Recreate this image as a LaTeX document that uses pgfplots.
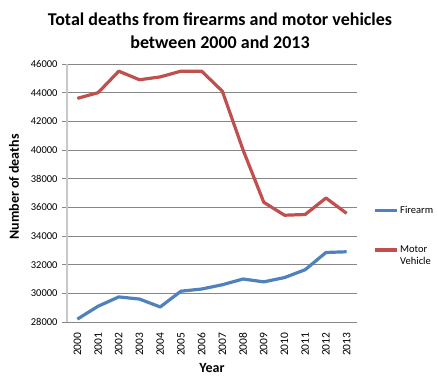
\documentclass[border=0pt]{standalone}
\usepackage{pgfplots}
\pgfplotsset{compat=1.18}
\usepackage{fontspec}
\setmainfont{Carlito}
\definecolor{fire}{RGB}{79,129,189}
\definecolor{motor}{RGB}{192,80,77}
\definecolor{gridc}{RGB}{134,134,134}
\definecolor{axc}{RGB}{200,200,200}
\begin{document}
\begin{tikzpicture}[x=1pt,y=1pt]
\useasboundingbox (0,0) rectangle (438,375);
\node[font=\bfseries\fontsize{18}{23}\selectfont, align=center] at (220,344) {Total deaths from firearms and motor vehicles\\between 2000 and 2013};
\node[font=\bfseries\fontsize{14}{16}\selectfont, rotate=90] at (14,188) {Number of deaths};
\node[font=\bfseries\fontsize{14}{16}\selectfont] at (212,7) {Year};
\begin{axis}[
  at={(67pt,53pt)}, anchor=south west,
  scale only axis, width=290pt, height=258pt,
  xmin=-0.5, xmax=13.5, ymin=28000, ymax=46000,
  xtick={0,...,13},
  xticklabels={2000,2001,2002,2003,2004,2005,2006,2007,2008,2009,2010,2011,2012,2013},
  major x tick style={draw=none},
  extra x ticks={-0.5,0.5,...,13.5}, extra x tick labels={},
  extra x tick style={grid=none, tick style={draw=gridc, line width=0.8pt}},
  ytick={28000,30000,...,46000},
  ymajorgrids, grid style={gridc, line width=0.8pt},
  axis x line*=bottom, axis y line*=left,
  x axis line style={gridc, line width=0.8pt},
  y axis line style={axc, line width=1.5pt},
  tick align=outside, major tick length=5pt,
  ytick style={draw=gridc, line width=0.8pt},
  scaled y ticks=false,
  /pgf/number format/1000 sep={},
  /pgf/number format/assume math mode=true,
  yticklabel style={font=\fontsize{10.5}{11}\selectfont, xshift=-1pt},
  xticklabel style={font=\fontsize{11.5}{12}\selectfont, rotate=90, anchor=east, xshift=-2pt},
  legend style={at={(1.0545,0.356)}, anchor=west, draw=none, fill=none,
    font=\fontsize{10.5}{12}\selectfont, row sep=27pt, inner sep=0pt,
    cells={anchor=base west, text width=40pt, align=left},
    /tikz/every even column/.append style={column sep=0pt}},
  legend image code/.code={\draw[#1] plot coordinates {(0pt,0pt)(22pt,0pt)};},
  legend cell align=left,
  clip=false,
]
\addplot[fire, line width=3.2pt, line join=round] coordinates {
(0,28200)(1,29100)(2,29750)(3,29600)(4,29050)(5,30150)(6,30300)(7,30600)(8,31000)(9,30800)(10,31100)(11,31650)(12,32850)(13,32900)};
\addlegendentry{Firearm}
\addplot[motor, line width=3.2pt, line join=round] coordinates {
(0,43600)(1,44000)(2,45500)(3,44900)(4,45100)(5,45500)(6,45500)(7,44100)(8,40000)(9,36350)(10,35450)(11,35500)(12,36650)(13,35580)};
\addlegendentry{Motor Vehicle}
\end{axis}
\end{tikzpicture}
\end{document}
